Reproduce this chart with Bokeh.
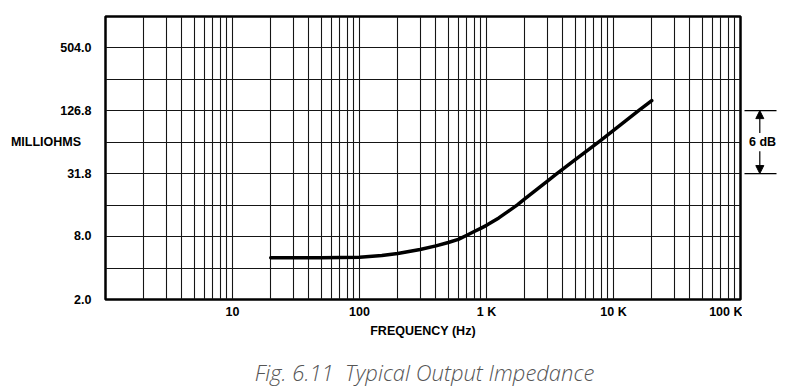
import math
from bokeh.plotting import figure
from bokeh.models import Range1d, FixedTicker, Arrow, NormalHead, Div
from bokeh.layouts import row, column
from bokeh.embed import file_html
from bokeh.resources import INLINE
from bokeh.core.properties import value

# ---------------- data ----------------
freq_hz = [20, 50, 100, 150, 200, 300, 400, 500, 600, 700, 800, 900, 1000,
           1250, 1500, 1750, 2000, 3000, 3500, 5000, 7800, 10000, 15850, 20000]
impedance_mohm = [5.0, 5.0, 5.05, 5.25, 5.5, 6.0, 6.5, 7.0, 7.5, 8.2, 8.9, 9.55, 10.2,
                  12.0, 14.0, 16.0, 18.2, 26.8, 31.0, 43.3, 65.0, 82.0, 127.5, 158.0]

x_tick_values = [10, 100, 1000, 10000, 100000]
x_tick_labels = ["10", "100", "1 K", "10 K", "100 K"]
y_tick_values = [2.0, 8.0, 31.8, 126.8, 504.0]
y_tick_labels = ["2.0", "8.0", "31.8", "126.8", "504.0"]
x_grid_values = [m * 10 ** d for d in range(5) for m in range(1, 10)] + [100000]
y_grid_db = list(range(0, 60, 6))          # grid every 6 dB
y_base = 2.0
y_grid_values = [y_base * 10 ** (db / 20) for db in y_grid_db]
y_top = y_base * 10 ** (54 / 20)
unit_label = "MILLIOHMS"
step_label = "6 dB"
caption = "Fig. 6.11  Typical Output Impedance"
x_title = "FREQUENCY (Hz)"

FONT = "Liberation Sans"
FS = "12.5px"
H_FIG = 341
TOP, BOTTOM = 16, 42

p = figure(width=742, height=H_FIG, x_axis_type="log", y_axis_type="log",
           x_range=Range1d(1, 100000), y_range=Range1d(y_base, y_top),
           output_backend="svg", toolbar_location=None, title=None,
           min_border_left=105, min_border_right=2, min_border_top=TOP, min_border_bottom=BOTTOM)
p.background_fill_color = "white"
p.border_fill_color = "white"
p.outline_line_color = "black"
p.outline_line_width = 2.5
p.outline_line_alpha = 1.0

p.xgrid.ticker = FixedTicker(ticks=x_grid_values)
p.ygrid.ticker = FixedTicker(ticks=y_grid_values)
for g in (p.xgrid[0], p.ygrid[0]):
    g.grid_line_color = "#151515"
    g.grid_line_width = 1.1
    g.grid_line_alpha = 1.0
    g.minor_grid_line_color = None

# y position of the unit label: midway (geometrically) between 31.8 and 126.8
y_unit = math.sqrt(y_tick_values[2] * y_tick_values[3])

xa = p.xaxis[0]
xa.ticker = FixedTicker(ticks=x_tick_values)
xa.major_label_overrides = dict(zip(x_tick_values, x_tick_labels))
xa.axis_label = x_title
ya = p.yaxis[0]
ya.ticker = FixedTicker(ticks=y_tick_values + [y_unit])
overrides = dict(zip(y_tick_values, y_tick_labels))
overrides[y_unit] = unit_label + "\u00a0\u00a0\u00a0"
ya.major_label_overrides = overrides

for ax, standoff in ((xa, 5), (ya, 14)):
    ax.axis_line_color = None
    ax.major_tick_line_color = None
    ax.minor_tick_line_color = None
    ax.major_tick_out = 0
    ax.major_tick_in = 0
    ax.major_label_standoff = standoff
    ax.major_label_text_font = FONT
    ax.major_label_text_font_style = "bold"
    ax.major_label_text_font_size = FS
    ax.major_label_text_color = "black"
xa.axis_label_standoff = 2
xa.axis_label_text_font = FONT
xa.axis_label_text_font_style = "bold"
xa.axis_label_text_font_size = FS
xa.axis_label_text_color = "black"

p.line(freq_hz, impedance_mohm, line_width=3.5, line_color="black",
       line_join="round", line_cap="round")

# ---- right-hand 6 dB scale annotation ----
q = figure(width=45, height=H_FIG, x_range=Range1d(0, 45), y_range=p.y_range,
           y_axis_type="log", x_axis_location=None, y_axis_location=None,
           output_backend="svg", toolbar_location=None, title=None,
           min_border_left=0, min_border_right=0, min_border_top=TOP, min_border_bottom=BOTTOM)
q.outline_line_color = None
q.grid.visible = False
q.background_fill_color = "white"
q.border_fill_color = "white"

lo, hi = y_tick_values[2], y_tick_values[3]
q.segment(x0=[2, 2], y0=[lo, hi], x1=[34, 34], y1=[lo, hi], line_color="black", line_width=1.2)
for tail, tip in ((y_unit * 1.22, hi), (y_unit / 1.22, lo)):
    q.add_layout(Arrow(end=NormalHead(size=8, fill_color="black", line_color="black", line_width=1),
                       x_start=17.3, y_start=tail, x_end=17.3, y_end=tip,
                       line_color="black", line_width=1.2))
q.text(x=[20], y=[y_unit], text=[step_label], text_font=value(FONT), text_font_style="bold",
       text_font_size=FS, text_align="center", text_baseline="middle", text_color="black")

cap = Div(text=('<div style="margin-left:58px; width:723px; padding-top:15px; text-align:center; '
                "font-family:'Open Sans'; font-style:italic; font-weight:300; font-size:22px; "
                'line-height:1; color:#555555; white-space:pre;">' + caption + '</div>'),
          width=787, height=389 - H_FIG)

layout = column(row(p, q), cap)
open("out.html", "w").write(file_html(layout, INLINE))
